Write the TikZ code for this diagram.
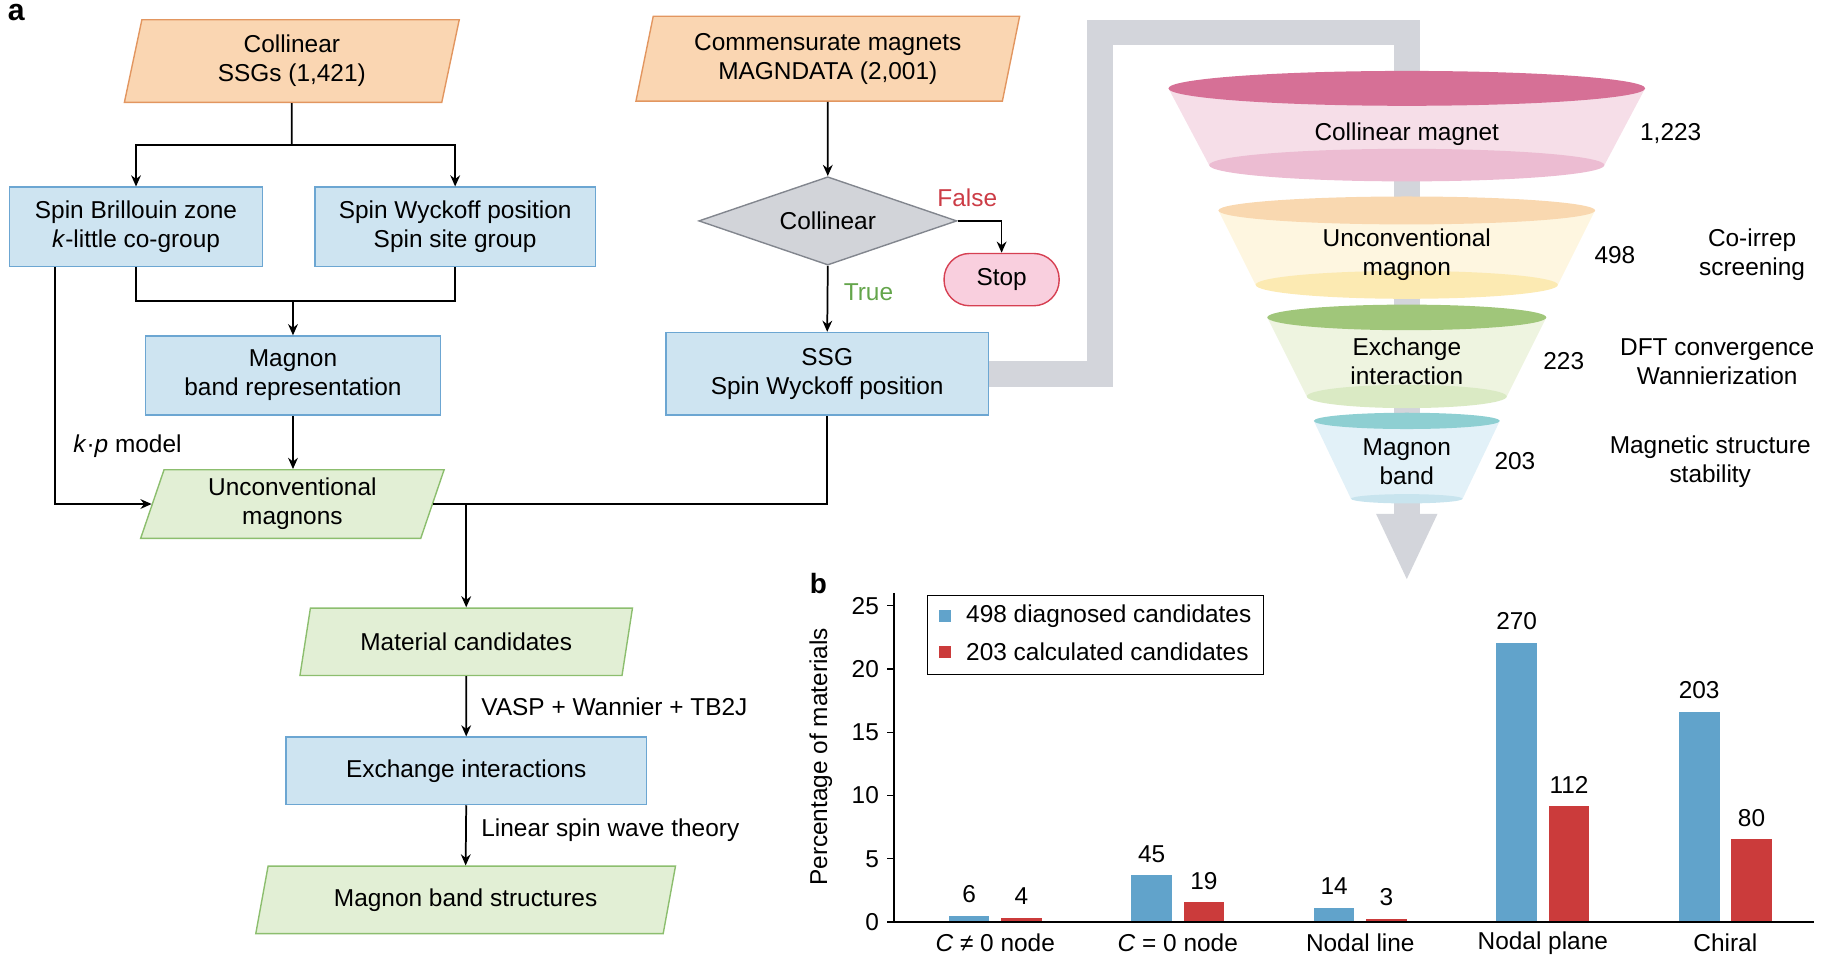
\documentclass[tikz,border=0pt]{standalone}
\usepackage{fontspec}
\setmainfont{Liberation Sans}
\usetikzlibrary{shapes.geometric,arrows.meta,positioning}

\definecolor{orfill}{HTML}{FAD6B2}
\definecolor{orline}{HTML}{E29660}
\definecolor{bxfill}{HTML}{CEE4F1}
\definecolor{bxline}{HTML}{6CA6D2}
\definecolor{grfill}{HTML}{E2EFD5}
\definecolor{grline}{HTML}{8CBE6E}
\definecolor{dmfill}{HTML}{D2D4D9}
\definecolor{dmline}{HTML}{82868E}
\definecolor{stfill}{HTML}{F9CFDE}
\definecolor{stline}{HTML}{D64052}
\definecolor{falsered}{HTML}{CC3C46}
\definecolor{truegreen}{HTML}{64A54B}
\definecolor{pipegray}{HTML}{D3D5DB}
\definecolor{barblue}{HTML}{61A3CB}
\definecolor{barred}{HTML}{CB3B3B}
% funnel layers: top ellipse, body, bottom ellipse
\definecolor{pinktop}{HTML}{D67096}
\definecolor{pinkbody}{HTML}{F6DEE8}
\definecolor{pinkbot}{HTML}{ECBCD2}
\definecolor{yeltop}{HTML}{F9D8B0}
\definecolor{yelbody}{HTML}{FEF6E0}
\definecolor{yelbot}{HTML}{FCEAB2}
\definecolor{grntop}{HTML}{A0C67A}
\definecolor{grnbody}{HTML}{EEF4E0}
\definecolor{grnbot}{HTML}{DAEAC4}
\definecolor{cyntop}{HTML}{8ECFD2}
\definecolor{cynbody}{HTML}{E2F1F8}
\definecolor{cynbot}{HTML}{C8E4EE}

\tikzset{
  flowbox/.style={rectangle, draw=bxline, fill=bxfill, line width=.6pt, align=center, inner sep=2pt},
  inpara/.style={trapezium, trapezium left angle=74, trapezium right angle=106,
    trapezium stretches body, draw=orline, fill=orfill, line width=.6pt, align=center, inner sep=2pt},
  outpara/.style={inpara, trapezium left angle=69, trapezium right angle=111, draw=grline, fill=grfill},
  flowline/.style={line width=.75pt},
  flowarrow/.style={flowline, -{Stealth[length=4.8pt,width=4.2pt]}},
  pipe/.style={draw=pipegray, line width=11pt, line join=miter, -{Triangle[width=24pt,length=29pt]}},
}

\begin{document}
\begin{tikzpicture}[x=0.5pt, y=-0.5pt, font=\fontsize{10.5}{12.4}\selectfont]
\useasboundingbox (0,0) rectangle (1568,826);
% panel labels
\node [font=\bfseries\fontsize{13}{13}\selectfont] at (14,11) {a};
\node [font=\bfseries\fontsize{12}{12}\selectfont] at (704,502) {b};

% flow chart, left branch
\node [inpara, minimum width=144pt, minimum height=35.5pt] (ssgs) at (251,52.5) {Collinear\\SSGs (1,421)};
\node [flowbox, minimum width=109pt, minimum height=34pt] (sbz) at (117,195) {Spin Brillouin zone\\\textit{k}-little co-group};
\node [flowbox, minimum width=120.5pt, minimum height=34pt] (swp) at (391.5,195) {Spin Wyckoff position\\Spin site group};
\node [flowbox, minimum width=127pt, minimum height=34pt] (mbr) at (252,323) {Magnon\\band representation};
\node [outpara, minimum width=130.5pt, minimum height=29.5pt] (unconv) at (251.5,433.5) {Unconventional\\magnons};
\coordinate (split) at (251,125);
\coordinate (merge) at (252,259);
\draw [flowline] (ssgs.south) -- (split);
\draw [flowarrow] (split) -| (sbz.north);
\draw [flowarrow] (split) -| (swp.north);
\draw [flowline] (sbz.south) |- (merge) -| (swp.south);
\draw [flowarrow] (merge) -- (mbr.north);
\draw [flowarrow] (mbr.south) -- (mbr.south |- unconv.top side);
\draw [flowarrow] ([xshift=-35pt]sbz.south) |- (unconv.left side);
\node [right] at (56,384) {\textit{k}·\textit{p} model};

% flow chart, right branch
\node [inpara, minimum width=165pt, minimum height=36.5pt] (magndata) at (712,50.5) {Commensurate magnets\\MAGNDATA (2,001)};
\node [diamond, aspect=2.9, draw=dmline, fill=dmfill, line width=.6pt, inner sep=0pt,
  minimum width=111pt, minimum height=38pt] (collin) at (712,190) {Collinear};
\node [rectangle, rounded corners=11pt, draw=stline, fill=stfill, line width=.6pt,
  minimum width=49.5pt, minimum height=22.5pt] (stop) at (861.5,240.5) {Stop};
\node [flowbox, minimum width=138.5pt, minimum height=35.5pt] (ssg) at (711.5,321.5) {SSG\\Spin Wyckoff position};
\draw [flowarrow] (magndata.south) -- (collin.north);
\draw [flowarrow] (collin.east) -| (stop.north);
\draw [flowarrow] (collin.south) -- (ssg.north);
\node [text=falsered] at (832,170) {False};
\node [text=truegreen] at (747,251) {True};

% candidates and calculations
\node [outpara, minimum width=143pt, minimum height=29pt] (matcand) at (401,552) {Material candidates};
\node [flowbox, minimum width=155pt, minimum height=29pt] (exch) at (401,663) {Exchange interactions};
\node [outpara, minimum width=180.5pt, minimum height=29pt] (mbands) at (400.5,774) {Magnon band structures};
\draw [flowline] (ssg.south) |- (unconv.right side);
\draw [flowarrow] (unconv.right side -| matcand.north) -- (matcand.north);
\draw [flowarrow] (matcand.south) -- (exch.north);
\draw [flowarrow] (exch.south) -- (mbands.north |- mbands.top side);
\node [right] at (407,608) {VASP + Wannier + TB2J};
\node [right] at (407,714) {Linear spin wave theory};

% screening funnel
\draw [pipe] (ssg.east) -| (946,28) -| (1210,500);
\foreach \yt/\rt/\ryt/\yb/\rb/\ryb/\ctop/\cbody/\cbot in
  {76/205/15/142/170/14/pinktop/pinkbody/pinkbot,
   181/162/12/245/130/12/yeltop/yelbody/yelbot,
   273/120/11/341/86/10/grntop/grnbody/grnbot,
   362/80/7/429/48/4/cyntop/cynbody/cynbot}
{
  \fill [\cbody] ({1210-\rt},\yt) -- ({1210-\rb},\yb) -- ({1210+\rb},\yb) -- ({1210+\rt},\yt) -- cycle;
  \fill [\cbot] (1210,\yb) ellipse [x radius=\rb, y radius=\ryb];
  \fill [\ctop] (1210,\yt) ellipse [x radius=\rt, y radius=\ryt];
}
\node (f1) at (1210,115) {Collinear magnet};
\node [align=center] (f2) at (1210,219) {Unconventional\\magnon};
\node [align=center] (f3) at (1210,311) {Exchange\\interaction};
\node [align=center] (f4) at (1210,397) {Magnon\\band};
\node at (1437,115) {1,223};
\node at (1389,219) {498};
\node at (1345,311) {223};
\node at (1303,397) {203};
\node [align=center] at (1507,219) {Co-irrep\\screening};
\node [align=center] at (1477,311) {DFT convergence\\Wannierization};
\node [align=center] at (1471,397) {Magnetic structure\\stability};

% bar chart
\foreach \i/\nb/\nr/\cat in {0/6/4/{\textit{C} ≠ 0 node}, 1/45/19/{\textit{C} = 0 node},
  2/14/3/{Nodal line}, 3/270/112/{Nodal plane}, 4/203/80/{Chiral}}
{
  \pgfmathsetmacro{\xl}{816+157*\i}
  \pgfmathsetmacro{\yb}{793-0.8896*\nb}
  \pgfmathsetmacro{\yr}{793-0.8896*\nr}
  \fill [barblue] (\xl,793) rectangle ({\xl+35},\yb);
  \fill [barred] ({\xl+45},793) rectangle ({\xl+80},\yr);
  \node [above=2pt] at ({\xl+17.5},\yb) {\nb};
  \node [above=2pt] at ({\xl+62.5},\yr) {\nr};
  \node at ({\xl+40},811) {\cat};
}
% axes
\draw [line width=.5pt] (769,510) -- (769,793) -- (1560,793);
\foreach \v in {0,5,...,25}
{
  \draw [line width=.5pt] (763,{793-10.88*\v}) -- (769,{793-10.88*\v});
  \node [left] at (763,{793-10.88*\v}) {\v};
}
\node [rotate=90] at (706,651) {Percentage of materials};
% legend
\draw [line width=.5pt] (798,512) rectangle (1087,580);
\fill [barblue] (808,525) rectangle (818,535);
\fill [barred] (808,556) rectangle (818,566);
\node [right] at (824,530) {498 diagnosed candidates};
\node [right] at (824,561) {203 calculated candidates};
\end{tikzpicture}
\end{document}
